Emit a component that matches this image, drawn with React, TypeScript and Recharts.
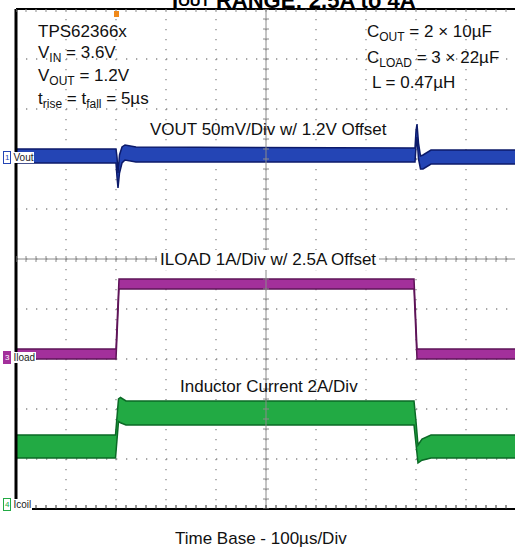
import React from 'react';
import {
  ComposedChart,
  Area,
  XAxis,
  YAxis,
  CartesianGrid,
  ReferenceLine,
  Scatter,
} from 'recharts';

// time base: 100 µs/div, 10 divisions across the screen
const timeTicks = [0, 100, 200, 300, 400, 500, 600, 700, 800, 900, 1000];
const divTicks = [0, 1, 2, 3, 4, 5, 6, 7, 8, 9, 10];

// VOUT in mV (50 mV/div, 1.2 V offset), noisy band low/high
const voutTime = [0, 200, 202, 204, 207, 212, 218, 240, 798, 800, 802, 805, 809, 814, 830, 1000];
const voutLow = [1196, 1196, 1182, 1171, 1186, 1196, 1199, 1197, 1197, 1212, 1222, 1200, 1190, 1190, 1195, 1195];
const voutHigh = [1210, 1210, 1202, 1186, 1204, 1212, 1214, 1212, 1211, 1228, 1235, 1216, 1203, 1204, 1209, 1209];

// ILOAD in A (1 A/div, 2.5 A offset)
const iloadTime = [0, 200, 206, 796, 802, 1000];
const iloadLow = [2.5, 2.5, 3.9, 3.9, 2.5, 2.5];
const iloadHigh = [2.7, 2.7, 4.1, 4.1, 2.7, 2.7];

// inductor current in A (2 A/div)
const icoilTime = [0, 199, 205, 209, 220, 796, 800, 804, 812, 830, 1000];
const icoilLow = [2.04, 2.04, 3.5, 3.45, 3.36, 3.36, 2.6, 1.84, 1.95, 2.04, 2.04];
const icoilHigh = [2.96, 2.96, 4.4, 4.46, 4.32, 4.32, 3.5, 2.56, 2.8, 2.96, 2.96];

const voutData = voutTime.map((t, i) => ({ t, band: [voutLow[i], voutHigh[i]] }));
const iloadData = iloadTime.map((t, i) => ({ t, band: [iloadLow[i], iloadHigh[i]] }));
const icoilData = icoilTime.map((t, i) => ({ t, band: [icoilLow[i], icoilHigh[i]] }));

// minor graticule marks, 5 per division
const hMinor = Array.from({ length: 51 }, (_, i) => ({ t: i * 20, y: 5 }));
const vMinor = Array.from({ length: 51 }, (_, i) => ({ t: 500, y: i * 0.2 }));
const bottomMinor = Array.from({ length: 51 }, (_, i) => ({ t: i * 20, y: 0 }));
const topMinor = Array.from({ length: 51 }, (_, i) => ({ t: i * 20, y: 10 }));

const GRAT = '#8a8a8a';
const font = 'Arial, "Liberation Sans", Helvetica, sans-serif';

const sub: React.CSSProperties = { fontSize: 12, position: 'relative', top: 4 };

function Marker({ top, num, name, color, filled }: { top: number; num: string; name: string; color: string; filled?: boolean }) {
  return (
    <div style={{ position: 'absolute', left: 3, top, display: 'flex', alignItems: 'center', fontSize: 10, lineHeight: '11px' }}>
      <span
        style={{
          border: `1px solid ${color}`,
          background: filled ? color : '#fff',
          color: filled ? '#fff' : color,
          padding: '0 1px',
          fontSize: 8,
        }}
      >
        {num}
      </span>
      <span style={{ background: '#fff', color: '#222', padding: '0 1px', marginLeft: 1 }}>{name}</span>
    </div>
  );
}

export default function App() {
  return (
    <div style={{ position: 'absolute', left: 0, top: 0, width: 515, height: 550, overflow: 'hidden', background: '#fff', fontFamily: font }}>
      <ComposedChart width={516} height={550} margin={{ top: 9, right: 0, bottom: 41, left: 16 }}>
        <XAxis dataKey="t" type="number" domain={[0, 1000]} ticks={timeTicks} hide allowDataOverflow />
        <YAxis yAxisId="div" dataKey="y" type="number" domain={[0, 10]} ticks={divTicks} hide allowDataOverflow />
        <YAxis yAxisId="vout" type="number" domain={[850, 1350]} hide allowDataOverflow />
        <YAxis yAxisId="iload" type="number" domain={[-0.5, 9.5]} hide allowDataOverflow />
        <YAxis yAxisId="icoil" type="number" domain={[0, 20]} hide allowDataOverflow />
        <CartesianGrid yAxisId="div" stroke={GRAT} strokeWidth={1.3} strokeDasharray="1.3 8.7" />
        <ReferenceLine yAxisId="div" y={5} stroke={GRAT} strokeWidth={1} />
        <ReferenceLine yAxisId="div" x={500} stroke={GRAT} strokeWidth={1} />
        <Scatter
          yAxisId="div"
          data={hMinor}
          isAnimationActive={false}
          shape={(p: any) => <line x1={p.cx} x2={p.cx} y1={p.cy - 3} y2={p.cy + 3} stroke={GRAT} strokeWidth={1} />}
        />
        <Scatter
          yAxisId="div"
          data={vMinor}
          isAnimationActive={false}
          shape={(p: any) => <line x1={p.cx - 3} x2={p.cx + 3} y1={p.cy} y2={p.cy} stroke={GRAT} strokeWidth={1} />}
        />
        <Scatter
          yAxisId="div"
          data={bottomMinor}
          isAnimationActive={false}
          shape={(p: any) => <line x1={p.cx} x2={p.cx} y1={p.cy - 4} y2={p.cy} stroke="#333" strokeWidth={1} />}
        />
        <Scatter
          yAxisId="div"
          data={topMinor}
          isAnimationActive={false}
          shape={(p: any) => <line x1={p.cx} x2={p.cx} y1={p.cy} y2={p.cy + 3} stroke={GRAT} strokeWidth={1} />}
        />
        <Area
          yAxisId="vout"
          data={voutData}
          dataKey="band"
          type="linear"
          stroke="#0c1a6a"
          strokeWidth={1.5}
          fill="#2445b5"
          fillOpacity={1}
          isAnimationActive={false}
        />
        <Area
          yAxisId="iload"
          data={iloadData}
          dataKey="band"
          type="linear"
          stroke="#5e1458"
          strokeWidth={1.5}
          fill="#a3309b"
          fillOpacity={1}
          isAnimationActive={false}
        />
        <Area
          yAxisId="icoil"
          data={icoilData}
          dataKey="band"
          type="linear"
          stroke="#0b6a26"
          strokeWidth={1.5}
          fill="#22aa44"
          fillOpacity={1}
          isAnimationActive={false}
        />
        <ReferenceLine yAxisId="div" x={0} stroke="#000" strokeWidth={3} />
        <ReferenceLine yAxisId="div" y={10} stroke="#000" strokeWidth={2} />
        <ReferenceLine yAxisId="div" y={0} stroke="#000" strokeWidth={2} />
      </ComposedChart>

      {/* title, cut by the top edge as in the source */}
      <div style={{ position: 'absolute', left: 172, top: -12, fontSize: 22, fontWeight: 'bold', whiteSpace: 'nowrap', color: '#000' }}>
        I<span style={{ fontSize: 15, position: 'relative', top: -2 }}>OUT</span> RANGE: 2.5A to 4A
      </div>

      {/* trigger marker */}
      <div style={{ position: 'absolute', left: 114, top: 11, width: 5, height: 6, background: '#f08a1c' }} />

      <div style={{ position: 'absolute', left: 38, top: 21, fontSize: 17, lineHeight: '21px', color: '#111', whiteSpace: 'nowrap' }}>
        <div>TPS62366x</div>
        <div>
          V<span style={sub}>IN</span> = 3.6V
        </div>
        <div>
          V<span style={sub}>OUT</span> = 1.2V
        </div>
        <div>
          t<span style={sub}>rise</span> = t<span style={sub}>fall</span> = 5µs
        </div>
      </div>

      <div style={{ position: 'absolute', left: 367, top: 20, fontSize: 17, lineHeight: '24.5px', color: '#111', whiteSpace: 'nowrap' }}>
        <div>
          C<span style={sub}>OUT</span> = 2 × 10µF
        </div>
        <div>
          C<span style={sub}>LOAD</span> = 3 × 22µF
        </div>
        <div style={{ paddingLeft: 5 }}>L = 0.47µH</div>
      </div>

      <div style={{ position: 'absolute', left: 150, top: 120, fontSize: 17, color: '#111', whiteSpace: 'nowrap' }}>
        VOUT 50mV/Div w/ 1.2V Offset
      </div>
      <div style={{ position: 'absolute', left: 157, top: 250, fontSize: 17, color: '#111', whiteSpace: 'nowrap', background: '#fff', padding: '0 3px' }}>
        ILOAD 1A/Div w/ 2.5A Offset
      </div>
      <div style={{ position: 'absolute', left: 180, top: 377, fontSize: 17, color: '#111', whiteSpace: 'nowrap' }}>
        Inductor Current 2A/Div
      </div>
      <div style={{ position: 'absolute', left: 175, top: 529, fontSize: 17, color: '#111', whiteSpace: 'nowrap' }}>
        Time Base - 100µs/Div
      </div>

      <Marker top={151} num="1" name="Vout" color="#2445b5" />
      <Marker top={351} num="3" name="Iload" color="#a3309b" filled />
      <Marker top={498} num="4" name="Icoil" color="#22aa44" />
    </div>
  );
}
